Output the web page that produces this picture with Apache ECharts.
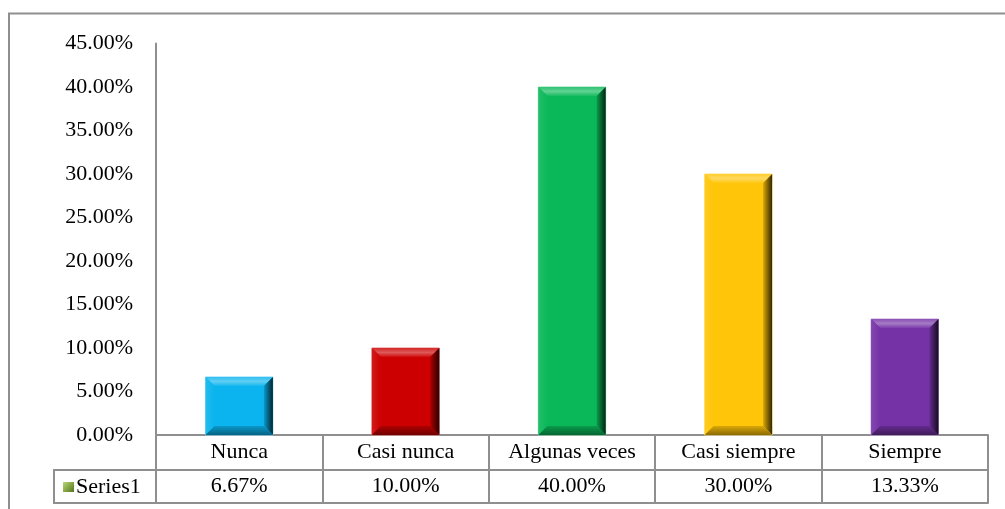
<!DOCTYPE html>
<html>
<head>
<meta charset="utf-8">
<script src="https://cdn.jsdelivr.net/npm/echarts@6/dist/echarts.min.js"></script>
<style>
  html, body { margin: 0; padding: 0; background: #fff; }
  #chart { width: 1005px; height: 509px; }
</style>
</head>
<body>
<div id="chart"></div>
<script>
// datos del grafico
var categories = ['Nunca', 'Casi nunca', 'Algunas veces', 'Casi siempre', 'Siempre'];
var values = [6.67, 10.00, 40.00, 30.00, 13.33];
var barColors = ['#0BB4EE', '#CC0000', '#0BB859', '#FFC508', '#7532A6'];
var seriesName = 'Series1';

var FONT = 'Liberation Serif';
var FS = 22;
var LINE = '#8f8f8f';

function pct(v) { return v.toFixed(2) + '%'; }
var valueLabels = values.map(pct);

// aclarar / oscurecer un color hex
function shade(hex, f) {
	var n = parseInt(hex.slice(1), 16);
	var r = n >> 16, g = (n >> 8) & 255, b = n & 255;
	function c(x) {
		x = f >= 0 ? x + (255 - x) * f : x * (1 + f);
		return Math.max(0, Math.min(255, Math.round(x)));
	}
	return 'rgb(' + c(r) + ',' + c(g) + ',' + c(b) + ')';
}

/** barra con bisel, dibujada desde los ejes */
function renderBevelBar(params, api) {
	var idx = api.value(0);
	var top = api.coord([idx, api.value(1)]);
	var base = api.coord([idx, 0]);
	var w = api.size([1, 0])[0] * 0.405;
	var x0 = top[0] - w / 2, x1 = top[0] + w / 2;
	var y0 = top[1], y1 = base[1];
	var b = Math.min(9, (y1 - y0) / 2);
	var col = barColors[idx];
	return {
		type: 'group',
		children: [
			{ type: 'rect', shape: { x: x0, y: y0, width: w, height: y1 - y0 },
			  style: { fill: col, stroke: shade(col, 0.5), lineWidth: 1 } },
			// arriba
			{ type: 'polygon', shape: { points: [[x0, y0], [x1, y0], [x1 - b, y0 + b], [x0 + b, y0 + b]] },
			  style: { fill: new echarts.graphic.LinearGradient(0, 0, 0, 1, [
				{ offset: 0, color: shade(col, 0.15) },
				{ offset: 0.5, color: shade(col, 0.35) },
				{ offset: 1, color: shade(col, 0.05) }]) } },
			// izquierda
			{ type: 'polygon', shape: { points: [[x0, y0], [x0 + b, y0 + b], [x0 + b, y1 - b], [x0, y1]] },
			  style: { fill: new echarts.graphic.LinearGradient(0, 0, 1, 0, [
				{ offset: 0, color: shade(col, 0.1) },
				{ offset: 1, color: col }]) } },
			// derecha
			{ type: 'polygon', shape: { points: [[x1, y0], [x1, y1], [x1 - b, y1 - b], [x1 - b, y0 + b]] },
			  style: { fill: new echarts.graphic.LinearGradient(0, 0, 1, 0, [
				{ offset: 0, color: shade(col, -0.15) },
				{ offset: 1, color: shade(col, -0.8) }]) } },
			// abajo
			{ type: 'polygon', shape: { points: [[x0, y1], [x0 + b, y1 - b], [x1 - b, y1 - b], [x1, y1]] },
			  style: { fill: new echarts.graphic.LinearGradient(0, 0, 0, 1, [
				{ offset: 0, color: shade(col, -0.15) },
				{ offset: 1, color: shade(col, -0.45) }]) } }
		]
	};
}

var tableAxis = {
	type: 'category',
	position: 'bottom',
	boundaryGap: true,
	axisLine: { show: true, lineStyle: { color: LINE, width: 2 } },
	axisTick: { show: true, alignWithLabel: false, interval: 0, lineStyle: { color: LINE, width: 2 } },
	axisLabel: { interval: 0, fontFamily: FONT, fontSize: FS, color: '#000' },
	splitLine: { show: false }
};

var option = {
	animation: false,
	grid: { left: 156, right: 17, top: 43.5, bottom: 74 },
	xAxis: [
		echarts.util.merge({ data: categories, axisTick: { length: 35 }, axisLabel: { margin: 6 } }, tableAxis, false),
		echarts.util.merge({ data: valueLabels, offset: 35, axisTick: { length: 33 }, axisLabel: { margin: 5 } }, tableAxis, false),
		echarts.util.merge({ data: valueLabels, offset: 68, axisTick: { show: false }, axisLabel: { show: false } }, tableAxis, false)
	],
	yAxis: {
		type: 'value',
		min: 0,
		max: 45,
		interval: 5,
		axisLine: { show: true, lineStyle: { color: LINE, width: 2 } },
		axisTick: { show: false },
		splitLine: { show: false },
		axisLabel: { margin: 23, fontFamily: FONT, fontSize: FS, color: '#000', formatter: pct }
	},
	series: [{
		name: seriesName,
		type: 'custom',
		xAxisIndex: 0,
		renderItem: renderBevelBar,
		encode: { x: 0, y: 1 },
		data: values.map(function(v, i) { return [i, v]; })
	}],
	graphic: [
		// marco exterior
		{ type: 'polyline', shape: { points: [[9, 509], [9, 13.5], [1005, 13.5]] },
		  style: { stroke: LINE, lineWidth: 2, fill: null } },
		// celda de leyenda
		{ type: 'polyline', shape: { points: [[156, 470], [54, 470], [54, 503], [156, 503]] },
		  style: { stroke: LINE, lineWidth: 2, fill: null } },
		{ type: 'rect', shape: { x: 63, y: 482, width: 11, height: 10 },
		  style: { fill: new echarts.graphic.LinearGradient(0, 0, 1, 1, [
			{ offset: 0, color: '#b9d67e' }, { offset: 0.5, color: '#86a844' }, { offset: 1, color: '#56731f' }]) } },
		{ type: 'text', x: 76, y: 487,
		  style: { text: seriesName, font: FS + 'px "' + FONT + '"', fill: '#000', verticalAlign: 'middle' } }
	]
};

var myChart = echarts.init(document.getElementById('chart'));
myChart.setOption(option);
</script>
</body>
</html>
